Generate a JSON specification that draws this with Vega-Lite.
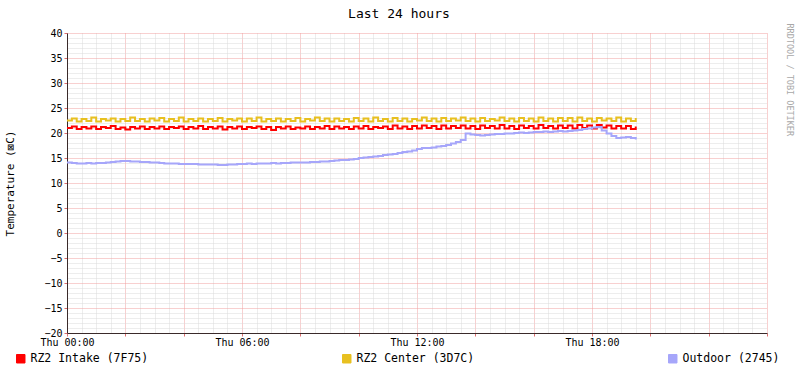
{
  "$schema": "https://vega.github.io/schema/vega-lite/v6.json",
  "width": 700,
  "height": 300,
  "autosize": "none",
  "padding": {"left": 67, "top": 33, "right": 30, "bottom": 40},
  "background": "white",
  "config": {"view": {"stroke": null}, "font": "DejaVu Sans Mono"},
  "title": {"text": "Last 24 hours", "font": "DejaVu Sans Mono", "fontSize": 13, "fontWeight": "normal", "color": "#000", "anchor": "middle", "frame": "bounds", "offset": 2},
  "data": {"values": [
    {"t":"2024-01-04T00:00","intake":21.0,"center":22.5,"outdoor":14.1},
    {"t":"2024-01-04T00:10","intake":21.3,"center":22.9,"outdoor":14.0},
    {"t":"2024-01-04T00:20","intake":20.8,"center":22.3,"outdoor":13.9},
    {"t":"2024-01-04T00:30","intake":21.2,"center":22.8,"outdoor":13.9},
    {"t":"2024-01-04T00:40","intake":20.9,"center":22.4,"outdoor":14.0},
    {"t":"2024-01-04T00:50","intake":21.3,"center":23.1,"outdoor":13.9},
    {"t":"2024-01-04T01:00","intake":20.8,"center":22.3,"outdoor":14.0},
    {"t":"2024-01-04T01:10","intake":21.2,"center":22.8,"outdoor":14.0},
    {"t":"2024-01-04T01:20","intake":21.0,"center":22.5,"outdoor":14.1},
    {"t":"2024-01-04T01:30","intake":21.4,"center":22.9,"outdoor":14.2},
    {"t":"2024-01-04T01:40","intake":20.8,"center":22.3,"outdoor":14.3},
    {"t":"2024-01-04T01:50","intake":21.1,"center":22.8,"outdoor":14.4},
    {"t":"2024-01-04T02:00","intake":20.7,"center":22.4,"outdoor":14.4},
    {"t":"2024-01-04T02:10","intake":21.2,"center":23.1,"outdoor":14.3},
    {"t":"2024-01-04T02:20","intake":20.9,"center":22.4,"outdoor":14.3},
    {"t":"2024-01-04T02:30","intake":21.3,"center":22.8,"outdoor":14.2},
    {"t":"2024-01-04T02:40","intake":20.8,"center":22.3,"outdoor":14.2},
    {"t":"2024-01-04T02:50","intake":21.2,"center":22.9,"outdoor":14.1},
    {"t":"2024-01-04T03:00","intake":20.9,"center":22.5,"outdoor":14.1},
    {"t":"2024-01-04T03:10","intake":21.3,"center":23.0,"outdoor":14.0},
    {"t":"2024-01-04T03:20","intake":20.8,"center":22.3,"outdoor":13.9},
    {"t":"2024-01-04T03:30","intake":21.2,"center":22.8,"outdoor":13.9},
    {"t":"2024-01-04T03:40","intake":21.0,"center":22.4,"outdoor":13.9},
    {"t":"2024-01-04T03:50","intake":21.3,"center":23.1,"outdoor":13.8},
    {"t":"2024-01-04T04:00","intake":20.8,"center":22.3,"outdoor":13.8},
    {"t":"2024-01-04T04:10","intake":21.2,"center":22.8,"outdoor":13.8},
    {"t":"2024-01-04T04:20","intake":20.9,"center":22.4,"outdoor":13.8},
    {"t":"2024-01-04T04:30","intake":21.4,"center":22.9,"outdoor":13.7},
    {"t":"2024-01-04T04:40","intake":20.8,"center":22.3,"outdoor":13.7},
    {"t":"2024-01-04T04:50","intake":21.2,"center":22.8,"outdoor":13.7},
    {"t":"2024-01-04T05:00","intake":20.9,"center":22.4,"outdoor":13.7},
    {"t":"2024-01-04T05:10","intake":21.3,"center":23.0,"outdoor":13.6},
    {"t":"2024-01-04T05:20","intake":20.7,"center":22.3,"outdoor":13.6},
    {"t":"2024-01-04T05:30","intake":21.2,"center":22.8,"outdoor":13.7},
    {"t":"2024-01-04T05:40","intake":20.9,"center":22.5,"outdoor":13.7},
    {"t":"2024-01-04T05:50","intake":21.3,"center":22.9,"outdoor":13.8},
    {"t":"2024-01-04T06:00","intake":20.8,"center":22.3,"outdoor":13.8},
    {"t":"2024-01-04T06:10","intake":21.2,"center":22.9,"outdoor":13.9},
    {"t":"2024-01-04T06:20","intake":21.0,"center":22.4,"outdoor":13.8},
    {"t":"2024-01-04T06:30","intake":21.3,"center":23.1,"outdoor":13.9},
    {"t":"2024-01-04T06:40","intake":20.8,"center":22.3,"outdoor":13.9},
    {"t":"2024-01-04T06:50","intake":21.2,"center":22.8,"outdoor":13.9},
    {"t":"2024-01-04T07:00","intake":20.6,"center":22.4,"outdoor":14.0},
    {"t":"2024-01-04T07:10","intake":21.2,"center":22.9,"outdoor":13.9},
    {"t":"2024-01-04T07:20","intake":20.9,"center":22.3,"outdoor":14.0},
    {"t":"2024-01-04T07:30","intake":21.3,"center":22.8,"outdoor":14.0},
    {"t":"2024-01-04T07:40","intake":20.8,"center":22.4,"outdoor":14.1},
    {"t":"2024-01-04T07:50","intake":21.1,"center":23.0,"outdoor":14.1},
    {"t":"2024-01-04T08:00","intake":20.9,"center":22.3,"outdoor":14.1},
    {"t":"2024-01-04T08:10","intake":21.3,"center":22.8,"outdoor":14.1},
    {"t":"2024-01-04T08:20","intake":20.8,"center":22.5,"outdoor":14.2},
    {"t":"2024-01-04T08:30","intake":21.2,"center":23.1,"outdoor":14.2},
    {"t":"2024-01-04T08:40","intake":20.9,"center":22.4,"outdoor":14.3},
    {"t":"2024-01-04T08:50","intake":21.4,"center":22.9,"outdoor":14.3},
    {"t":"2024-01-04T09:00","intake":20.8,"center":22.3,"outdoor":14.4},
    {"t":"2024-01-04T09:10","intake":21.3,"center":22.9,"outdoor":14.5},
    {"t":"2024-01-04T09:20","intake":20.9,"center":22.4,"outdoor":14.6},
    {"t":"2024-01-04T09:30","intake":21.2,"center":22.8,"outdoor":14.6},
    {"t":"2024-01-04T09:40","intake":20.8,"center":22.3,"outdoor":14.7},
    {"t":"2024-01-04T09:50","intake":21.3,"center":23.0,"outdoor":14.8},
    {"t":"2024-01-04T10:00","intake":20.9,"center":22.4,"outdoor":15.0},
    {"t":"2024-01-04T10:10","intake":21.4,"center":22.9,"outdoor":15.1},
    {"t":"2024-01-04T10:20","intake":20.8,"center":22.3,"outdoor":15.2},
    {"t":"2024-01-04T10:30","intake":21.2,"center":23.1,"outdoor":15.3},
    {"t":"2024-01-04T10:40","intake":21.0,"center":22.4,"outdoor":15.4},
    {"t":"2024-01-04T10:50","intake":21.3,"center":22.8,"outdoor":15.6},
    {"t":"2024-01-04T11:00","intake":20.8,"center":22.3,"outdoor":15.7},
    {"t":"2024-01-04T11:10","intake":21.5,"center":23.0,"outdoor":15.8},
    {"t":"2024-01-04T11:20","intake":20.9,"center":22.4,"outdoor":16.0},
    {"t":"2024-01-04T11:30","intake":21.3,"center":22.9,"outdoor":16.2},
    {"t":"2024-01-04T11:40","intake":20.8,"center":22.3,"outdoor":16.3},
    {"t":"2024-01-04T11:50","intake":21.4,"center":22.8,"outdoor":16.5},
    {"t":"2024-01-04T12:00","intake":20.9,"center":22.5,"outdoor":16.8},
    {"t":"2024-01-04T12:10","intake":21.5,"center":23.1,"outdoor":17.0},
    {"t":"2024-01-04T12:20","intake":21.0,"center":22.4,"outdoor":17.0},
    {"t":"2024-01-04T12:30","intake":21.4,"center":22.9,"outdoor":17.1},
    {"t":"2024-01-04T12:40","intake":20.8,"center":22.3,"outdoor":17.3},
    {"t":"2024-01-04T12:50","intake":21.5,"center":23.0,"outdoor":17.4},
    {"t":"2024-01-04T13:00","intake":20.9,"center":22.4,"outdoor":17.6},
    {"t":"2024-01-04T13:10","intake":21.4,"center":22.9,"outdoor":17.9},
    {"t":"2024-01-04T13:20","intake":21.0,"center":22.5,"outdoor":18.2},
    {"t":"2024-01-04T13:30","intake":21.5,"center":23.1,"outdoor":18.6},
    {"t":"2024-01-04T13:40","intake":20.9,"center":22.4,"outdoor":19.9},
    {"t":"2024-01-04T13:50","intake":21.4,"center":22.9,"outdoor":19.7},
    {"t":"2024-01-04T14:00","intake":20.8,"center":22.3,"outdoor":19.6},
    {"t":"2024-01-04T14:10","intake":21.5,"center":23.0,"outdoor":19.5},
    {"t":"2024-01-04T14:20","intake":21.0,"center":22.4,"outdoor":19.6},
    {"t":"2024-01-04T14:30","intake":21.4,"center":22.8,"outdoor":19.7},
    {"t":"2024-01-04T14:40","intake":20.9,"center":22.5,"outdoor":19.8},
    {"t":"2024-01-04T14:50","intake":21.6,"center":23.1,"outdoor":19.8},
    {"t":"2024-01-04T15:00","intake":20.9,"center":22.4,"outdoor":19.9},
    {"t":"2024-01-04T15:10","intake":21.4,"center":22.9,"outdoor":19.9},
    {"t":"2024-01-04T15:20","intake":20.8,"center":22.3,"outdoor":20.0},
    {"t":"2024-01-04T15:30","intake":21.5,"center":23.0,"outdoor":20.1},
    {"t":"2024-01-04T15:40","intake":21.0,"center":22.4,"outdoor":20.0},
    {"t":"2024-01-04T15:50","intake":21.4,"center":22.9,"outdoor":20.1},
    {"t":"2024-01-04T16:00","intake":20.9,"center":22.3,"outdoor":20.2},
    {"t":"2024-01-04T16:10","intake":21.6,"center":23.1,"outdoor":20.2},
    {"t":"2024-01-04T16:20","intake":21.0,"center":22.4,"outdoor":20.3},
    {"t":"2024-01-04T16:30","intake":21.4,"center":22.9,"outdoor":20.2},
    {"t":"2024-01-04T16:40","intake":20.9,"center":22.3,"outdoor":20.3},
    {"t":"2024-01-04T16:50","intake":21.5,"center":23.0,"outdoor":20.4},
    {"t":"2024-01-04T17:00","intake":21.0,"center":22.4,"outdoor":20.3},
    {"t":"2024-01-04T17:10","intake":21.5,"center":23.0,"outdoor":20.4},
    {"t":"2024-01-04T17:20","intake":20.9,"center":22.3,"outdoor":20.5},
    {"t":"2024-01-04T17:30","intake":21.6,"center":23.1,"outdoor":20.6},
    {"t":"2024-01-04T17:40","intake":21.0,"center":22.4,"outdoor":20.8},
    {"t":"2024-01-04T17:50","intake":21.5,"center":22.9,"outdoor":20.9},
    {"t":"2024-01-04T18:00","intake":20.9,"center":22.3,"outdoor":21.1},
    {"t":"2024-01-04T18:10","intake":21.6,"center":23.0,"outdoor":21.2},
    {"t":"2024-01-04T18:20","intake":21.1,"center":22.5,"outdoor":20.5},
    {"t":"2024-01-04T18:30","intake":21.5,"center":22.9,"outdoor":19.9},
    {"t":"2024-01-04T18:40","intake":20.9,"center":22.4,"outdoor":19.4},
    {"t":"2024-01-04T18:50","intake":21.4,"center":23.1,"outdoor":19.0},
    {"t":"2024-01-04T19:00","intake":20.9,"center":22.3,"outdoor":19.1},
    {"t":"2024-01-04T19:10","intake":21.4,"center":22.9,"outdoor":19.2},
    {"t":"2024-01-04T19:20","intake":20.8,"center":22.4,"outdoor":19.0},
    {"t":"2024-01-04T19:30","intake":21.3,"center":23.0,"outdoor":18.7}
  ]},
  "transform": [{"fold": ["intake", "center", "outdoor"], "as": ["series", "temp"]}],
  "encoding": {
    "x": {
      "field": "t", "type": "temporal",
      "scale": {"domain": [{"year": 2024, "month": 1, "date": 4, "hours": 0}, {"year": 2024, "month": 1, "date": 5, "hours": 0}]},
      "axis": {
        "title": null,
        "tickCount": 48,
        "labelExpr": "minutes(datum.value) == 0 && hours(datum.value) % 6 == 0 && date(datum.value) == 4 ? timeFormat(datum.value, '%a %H:%M') : ''",
        "labelFont": "DejaVu Sans Mono", "labelFontSize": 10, "labelColor": "#000",
        "labelOverlap": false, "labelFlush": false, "labelPadding": 1,
        "gridColor": {"condition": {"test": "minutes(datum.value) == 0 && hours(datum.value) % 2 == 0", "value": "#f0a0a0"}, "value": "#dadada"},
        "gridDash": [1, 1],
        "tickSize": 3,
        "tickColor": {"condition": {"test": "minutes(datum.value) == 0 && hours(datum.value) % 2 == 0", "value": "#e07070"}, "value": "#ffffff"},
        "domainColor": "#3a2a2a"
      }
    },
    "color": {
      "field": "series", "type": "nominal",
      "scale": {"domain": ["intake", "center", "outdoor"], "range": ["#ff0000", "#e8c020", "#a6a6fa"]},
      "legend": {
        "orient": "none", "legendX": -52, "legendY": 320, "direction": "horizontal",
        "title": null, "symbolType": "square", "symbolSize": 72, "symbolStrokeWidth": 1,
        "labelFont": "DejaVu Sans Mono", "labelFontSize": 11.5, "labelColor": "#000", "labelOffset": 4, "labelLimit": 400,
        "columnPadding": 191,
        "labelExpr": "datum.value == 'intake' ? 'RZ2 Intake (7F75)' : datum.value == 'center' ? 'RZ2 Center (3D7C)' : 'Outdoor (2745)'",
        "encode": {"symbols": {"update": {"fill": {"scale": "color", "field": "value"}, "stroke": {"value": "#000000"}}}}
      }
    }
  },
  "layer": [
    {
      "transform": [{"filter": "datum.series != 'outdoor'"}],
      "mark": {"type": "line", "interpolate": "step-after", "strokeWidth": 2},
      "encoding": {
        "y": {
          "field": "temp", "type": "quantitative",
          "scale": {"domain": [-20, 40], "nice": false, "zero": false},
          "axis": {
            "values": [-20,-19,-18,-17,-16,-15,-14,-13,-12,-11,-10,-9,-8,-7,-6,-5,-4,-3,-2,-1,0,1,2,3,4,5,6,7,8,9,10,11,12,13,14,15,16,17,18,19,20,21,22,23,24,25,26,27,28,29,30,31,32,33,34,35,36,37,38,39,40],
            "title": "Temperature (⊠C)", "titleFont": "DejaVu Sans Mono", "titleFontSize": 11, "titleFontWeight": "normal", "titleColor": "#000",
            "titlePadding": 28,
            "labelExpr": "datum.value % 5 == 0 ? datum.label : ''",
            "labelFont": "DejaVu Sans Mono", "labelFontSize": 10, "labelColor": "#000", "labelOverlap": false, "labelPadding": 2,
            "gridColor": {"condition": {"test": "datum.value % 5 == 0", "value": "#f0a0a0"}, "value": "#dadada"},
            "gridDash": [1, 1],
            "tickSize": 3,
            "tickColor": {"condition": {"test": "datum.value % 5 == 0", "value": "#e07070"}, "value": "#ffffff"},
            "domainColor": "#3a2a2a"
          }
        }
      }
    },
    {
      "transform": [{"filter": "datum.series == 'outdoor'"}],
      "mark": {"type": "line", "interpolate": "step-after", "strokeWidth": 2},
      "encoding": {
        "y": {
          "field": "temp", "type": "quantitative",
          "scale": {"domain": [-20, 40], "nice": false, "zero": false},
          "axis": {
            "orient": "right", "labels": false, "ticks": false, "domain": false, "grid": false,
            "title": "RRDTOOL / TOBI OETIKER", "titleAngle": 90, "titleColor": "#a8a8a8",
            "titleFont": "DejaVu Sans Mono", "titleFontSize": 8.5, "titleFontWeight": "normal",
            "titleX": 22, "titleY": -10, "titleAlign": "left", "titleBaseline": "middle"
          }
        }
      }
    }
  ],
  "resolve": {"axis": {"y": "independent"}}
}
